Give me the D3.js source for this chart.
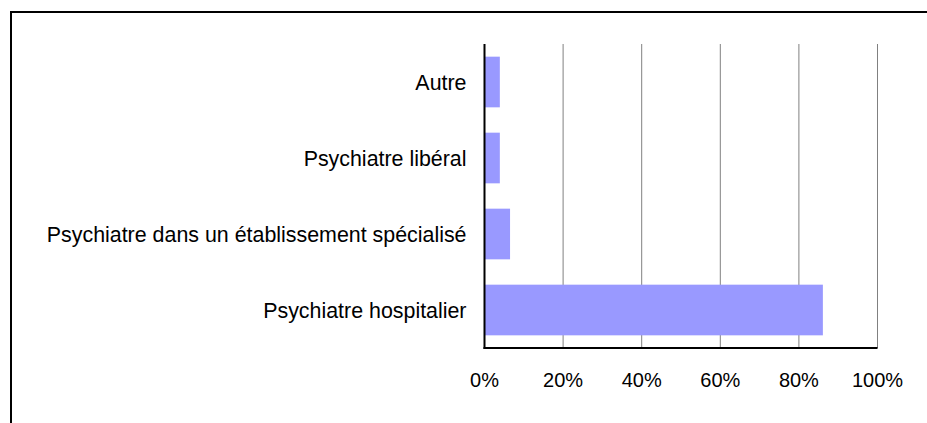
<!DOCTYPE html>
<html>
<meta charset="utf-8">
<head>
	<title>psychiatre</title>
	<script src="https://cdn.jsdelivr.net/npm/d3@7"></script>
	<style>
		body { margin: 0; background: #fff; }
		text { font-family: "Liberation Sans", Arial, sans-serif; }
	</style>
</head>
<body>
	<script type="text/javascript">
		var categories = ['Autre', 'Psychiatre libéral', 'Psychiatre dans un établissement spécialisé', 'Psychiatre hospitalier'];
		var values = [3.9, 3.9, 6.5, 86.1];
		var ticks = [0, 20, 40, 60, 80, 100];

		var width = 927, height = 423;
		var margin = {top: 44, left: 484.5, right: 49.5, bottom: 75};

		var svg = d3.select('body').append('svg')
			.attr('width', width)
			.attr('height', height);

		// frame
		svg.append('path')
			.attr('d', 'M11,' + height + 'V12H' + width)
			.attr('fill', 'none')
			.attr('stroke', '#000')
			.attr('stroke-width', 2);

		var x = d3.scaleLinear().domain([0, 100])
			.range([margin.left, width - margin.right]);
		var y = d3.scaleBand().domain(categories)
			.range([margin.top, height - margin.bottom])
			.paddingInner(1/3).paddingOuter(1/6);

		// grid
		svg.append('g').selectAll('line')
			.data(ticks.slice(1))
			.join('line')
			.attr('x1', d => x(d)).attr('x2', d => x(d))
			.attr('y1', margin.top).attr('y2', height - margin.bottom)
			.attr('stroke', '#808080')
			.attr('stroke-width', 1);

		// bars
		svg.append('g').selectAll('rect')
			.data(values)
			.join('rect')
			.attr('x', x(0))
			.attr('y', (d, i) => y(categories[i]))
			.attr('width', d => x(d) - x(0))
			.attr('height', y.bandwidth())
			.attr('fill', '#9999ff');

		// axes lines
		svg.append('line')
			.attr('x1', x(0)).attr('x2', x(0))
			.attr('y1', margin.top).attr('y2', height - margin.bottom + 1)
			.attr('stroke', '#000').attr('stroke-width', 2);
		svg.append('line')
			.attr('x1', x(0) - 1).attr('x2', x(100))
			.attr('y1', height - margin.bottom).attr('y2', height - margin.bottom)
			.attr('stroke', '#000').attr('stroke-width', 2);

		// tick labels
		svg.append('g').selectAll('text')
			.data(ticks)
			.join('text')
			.attr('x', d => x(d))
			.attr('y', 386.5)
			.attr('text-anchor', 'middle')
			.attr('font-size', 20)
			.text(d => d + '%');

		// category labels
		svg.append('g').selectAll('text')
			.data(categories)
			.join('text')
			.attr('x', x(0) - 18)
			.attr('y', d => y(d) + y.bandwidth() / 2)
			.attr('dy', '0.36em')
			.attr('text-anchor', 'end')
			.attr('font-size', 21.4)
			.text(d => d);
	</script>
</body>
</html>
